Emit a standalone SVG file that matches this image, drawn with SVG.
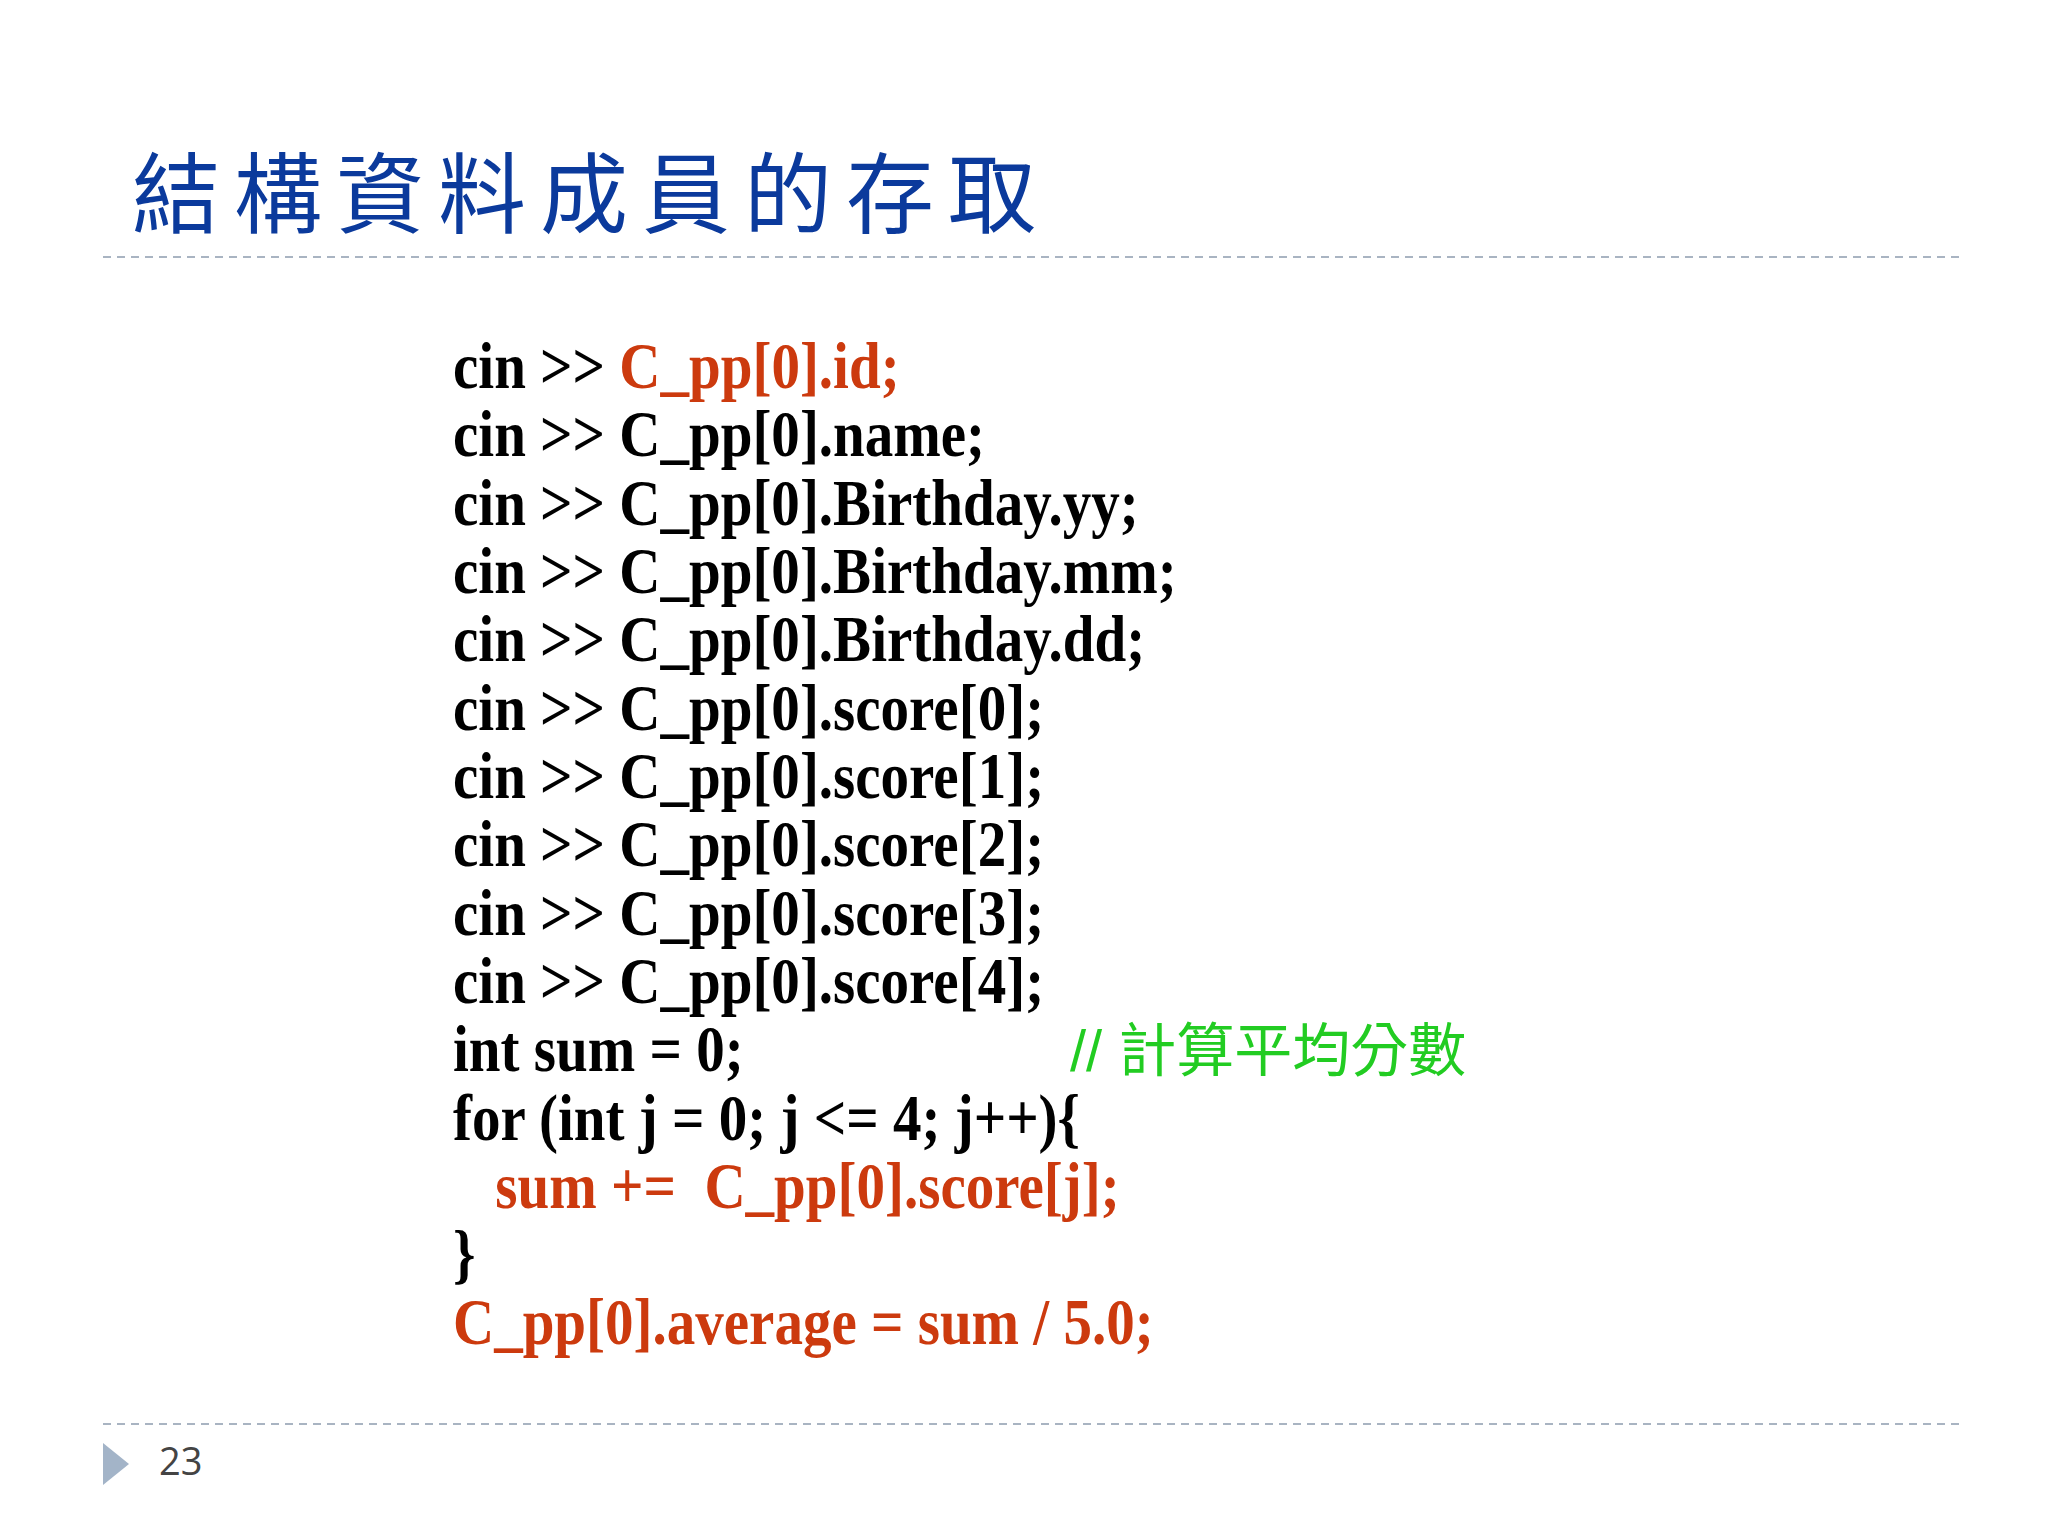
<svg xmlns="http://www.w3.org/2000/svg" width="2048" height="1536" viewBox="0 0 2048 1536">
<style>
.c{font-family:"Liberation Serif","Noto Serif CJK TC","Noto Sans CJK TC",serif;font-weight:bold;font-size:66px;fill:#000}
.o{fill:#CC3A0E}
.dash{stroke:#A9B4C2;stroke-width:2;stroke-dasharray:8,6}
</style>
<rect width="2048" height="1536" fill="#fff"/>
<text x="132" y="226" font-family="'Noto Sans CJK TC',sans-serif" font-size="88" fill="#0B3A9C" letter-spacing="14">結構資料成員的存取</text>
<line class="dash" x1="103" y1="257" x2="1961" y2="257"/>
<line class="dash" x1="103" y1="1424" x2="1961" y2="1424"/>
<polygon points="103,1443 129,1464 103,1485" fill="#A3B4C8"/>
<text x="159" y="1475" font-family="'Open Sans','Liberation Sans',sans-serif" font-size="38" fill="#444">23</text>
<g id="code" transform="translate(453,0) scale(0.864,1) translate(-453,0)">
<text class="c" x="453" y="388">cin &gt;&gt; <tspan class="o">C_pp[0].id;</tspan></text>
<text class="c" x="453" y="456">cin &gt;&gt; C_pp[0].name;</text>
<text class="c" x="453" y="525">cin &gt;&gt; C_pp[0].Birthday.yy;</text>
<text class="c" x="453" y="593">cin &gt;&gt; C_pp[0].Birthday.mm;</text>
<text class="c" x="453" y="661">cin &gt;&gt; C_pp[0].Birthday.dd;</text>
<text class="c" x="453" y="730">cin &gt;&gt; C_pp[0].score[0];</text>
<text class="c" x="453" y="798">cin &gt;&gt; C_pp[0].score[1];</text>
<text class="c" x="453" y="866">cin &gt;&gt; C_pp[0].score[2];</text>
<text class="c" x="453" y="935">cin &gt;&gt; C_pp[0].score[3];</text>
<text class="c" x="453" y="1003">cin &gt;&gt; C_pp[0].score[4];</text>
<text class="c" x="453" y="1071">int sum = 0;</text>
<text class="c" x="453" y="1140">for (int j = 0; j &lt;= 4; j++){</text>
<text class="c o" x="502" y="1208" xml:space="preserve">sum +=  C_pp[0].score[j];</text>
<text class="c" x="453" y="1276">}</text>
<text class="c o" x="453" y="1344">C_pp[0].average = sum / 5.0;</text>
</g>
<text x="1070" y="1071" font-family="'Liberation Sans','Noto Sans CJK TC',sans-serif" font-size="58" fill="#22CC22">// 計算平均分數</text>
</svg>
